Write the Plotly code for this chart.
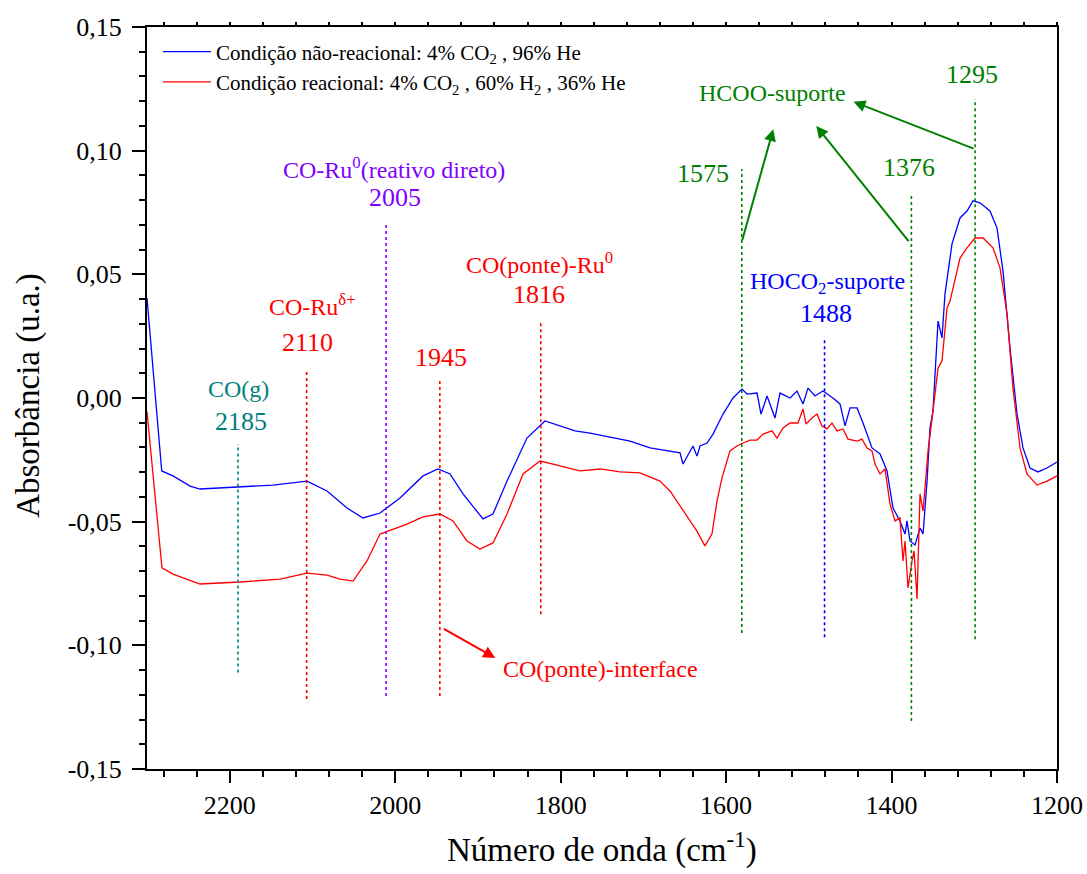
import plotly.graph_objects as go

# ---------------- data ----------------
wn_blue = [2300, 2282.2, 2268.6, 2248.0, 2235.9, 2187.6, 2147.7, 2106.6, 2082.4, 2058.2,
           2038.9, 2018.3, 1994.2, 1966.4, 1948.2, 1933.7, 1918.0, 1893.8, 1881.8, 1864.8,
           1840.7, 1818.9, 1800.8, 1782.6, 1764.5, 1740.3, 1716.1, 1691.9, 1667.8, 1655.7,
           1652.1, 1647.2, 1640.0, 1635.2, 1631.5, 1623.1, 1615.8, 1603.7, 1591.6, 1580.8,
           1574.7, 1562.6, 1557.8, 1550.5, 1540.9, 1534.8, 1522.7, 1514.3, 1507.0, 1501.0,
           1492.6, 1482.9, 1470.8, 1462.3, 1456.2, 1450.2, 1441.7, 1434.5, 1423.6, 1413.9,
           1405.5, 1398.2, 1389.8, 1383.7, 1381.3, 1377.7, 1371.6, 1365.6, 1361.9, 1357.1,
           1353.5, 1349.9, 1343.8, 1339.0, 1335.4, 1326.9, 1317.2, 1308.8, 1301.5, 1293.1,
           1281.0, 1272.5, 1265.3, 1256.8, 1248.3, 1241.1, 1232.6, 1223.0, 1212.1, 1200.0]
abs_blue = [0.0404, -0.0295, -0.0315, -0.0356, -0.0368, -0.0360, -0.0352, -0.0336, -0.0376, -0.0445,
            -0.0485, -0.0465, -0.0404, -0.0315, -0.0287, -0.0307, -0.0388, -0.0489, -0.0469, -0.0336,
            -0.0162, -0.0093, -0.0113, -0.0133, -0.0142, -0.0158, -0.0174, -0.0202, -0.0214, -0.0222,
            -0.0267, -0.0235, -0.0194, -0.0235, -0.0194, -0.0182, -0.0146, -0.0065, 0.0, 0.0036,
            0.0016, 0.0020, -0.0065, 0.0008, -0.0081, 0.0020, 0.0, 0.0028, -0.0024, 0.0040,
            0.0008, 0.0028, 0.0, -0.0024, -0.0113, -0.0040, -0.0040, -0.0101, -0.0202, -0.0226,
            -0.0295, -0.0445, -0.0497, -0.0550, -0.0497, -0.0578, -0.0594, -0.0526, -0.0550, -0.0336,
            -0.0121, -0.0053, 0.0311, 0.0243, 0.0421, 0.0623, 0.0728, 0.0756, 0.0797, 0.0789,
            0.0756, 0.0687, 0.0514, 0.0202, -0.0065, -0.0202, -0.0283, -0.0299, -0.0283, -0.0259]

wn_red = [2300, 2281.9, 2268.6, 2235.9, 2187.6, 2139.2, 2106.6, 2082.4, 2066.7, 2050.9,
          2034.1, 2018.3, 1985.7, 1966.4, 1945.8, 1930.1, 1913.2, 1897.5, 1881.8, 1864.8,
          1845.5, 1824.9, 1809.2, 1776.6, 1752.4, 1728.2, 1704.1, 1679.9, 1667.8, 1655.7,
          1649.7, 1643.6, 1635.2, 1625.6, 1617.1, 1611.0, 1605.0, 1595.3, 1586.8, 1579.6,
          1571.1, 1562.6, 1555.4, 1544.5, 1538.5, 1531.2, 1522.7, 1513.1, 1507.0, 1503.4,
          1496.2, 1490.1, 1484.1, 1478.0, 1472.0, 1466.0, 1458.7, 1452.6, 1441.7, 1435.7,
          1429.6, 1423.6, 1420.0, 1413.9, 1407.9, 1401.8, 1395.8, 1389.8, 1386.1, 1383.7,
          1380.1, 1375.3, 1372.8, 1369.2, 1365.6, 1361.9, 1355.9, 1349.9, 1343.8, 1339.0,
          1332.9, 1329.3, 1317.2, 1308.8, 1299.1, 1289.4, 1277.4, 1268.9, 1260.4, 1253.2,
          1244.7, 1236.3, 1224.2, 1212.1, 1200.0]
abs_red = [-0.0055, -0.0687, -0.0712, -0.0752, -0.0744, -0.0732, -0.0708, -0.0716, -0.0732, -0.0740,
           -0.0659, -0.0550, -0.0510, -0.0481, -0.0469, -0.0497, -0.0578, -0.0611, -0.0586, -0.0469,
           -0.0307, -0.0255, -0.0267, -0.0295, -0.0287, -0.0299, -0.0303, -0.0336, -0.0376, -0.0437,
           -0.0465, -0.0497, -0.0538, -0.0598, -0.0550, -0.0417, -0.0324, -0.0214, -0.0194, -0.0182,
           -0.0170, -0.0170, -0.0146, -0.0133, -0.0162, -0.0121, -0.0101, -0.0101, -0.0044, -0.0105,
           -0.0081, -0.0065, -0.0113, -0.0125, -0.0101, -0.0133, -0.0125, -0.0166, -0.0174, -0.0166,
           -0.0202, -0.0214, -0.0267, -0.0307, -0.0287, -0.0429, -0.0497, -0.0485, -0.0659, -0.0578,
           -0.0768, -0.0659, -0.0619, -0.0813, -0.0388, -0.0457, -0.0214, -0.0053, 0.0121, 0.0150,
           0.0364, 0.0392, 0.0566, 0.0607, 0.0647, 0.0647, 0.0607, 0.0526, 0.0340, 0.0040,
           -0.0202, -0.0307, -0.0352, -0.0336, -0.0315]

series_names = ["Condição não-reacional: 4% CO<sub>2</sub> , 96% He",
                "Condição reacional: 4% CO<sub>2</sub> , 60% H<sub>2</sub> , 36% He"]

x_ticks = [2200, 2000, 1800, 1600, 1400, 1200]
x_ticktext = ["2200", "2000", "1800", "1600", "1400", "1200"]
y_ticks = [0.15, 0.10, 0.05, 0.00, -0.05, -0.10, -0.15]
y_ticktext = ["0,15", "0,10", "0,05", "0,00", "-0,05", "-0,10", "-0,15"]

# peak marker lines (wavenumber, top, bottom)
marker_wn = [2190, 2107, 2011, 1946, 1824, 1581, 1481, 1376, 1299]
marker_top = [-0.0186, 0.0117, 0.0704, 0.0081, 0.0311, 0.0926, 0.0239, 0.0825, 0.1209]
marker_bottom = [-0.1110, -0.1217, -0.1205, -0.1205, -0.0874, -0.0950, -0.0967, -0.1306, -0.0975]

# ---------------- styles ----------------
TEAL = "#008080"
RED = "#FF0000"
PURPLE = "#8000FF"
GREEN = "#008000"
BLUE = "#0000FF"
marker_color = [TEAL, RED, PURPLE, RED, RED, GREEN, BLUE, GREEN, GREEN]
FONT = "Liberation Serif"

fig = go.Figure()
fig.add_trace(go.Scatter(x=wn_blue, y=abs_blue, mode="lines", name=series_names[0],
                         line=dict(color=BLUE, width=1.3)))
fig.add_trace(go.Scatter(x=wn_red, y=abs_red, mode="lines", name=series_names[1],
                         line=dict(color=RED, width=1.3)))
# carrier for the top tick axis
fig.add_trace(go.Scatter(x=[None], y=[None], xaxis="x2", showlegend=False, hoverinfo="skip"))

for wn, t, b, c in zip(marker_wn, marker_top, marker_bottom, marker_color):
    fig.add_shape(type="line", xref="x", yref="y", x0=wn, x1=wn, y0=b, y1=t,
                  line=dict(color=c, width=1.6, dash="dot"))

# text labels: (text, wn, abs, color, size)
labels = [
    ("CO(g)", 2189, 0.0036, TEAL, 24),
    ("2185", 2186, -0.0097, TEAL, 26),
    ("CO-Ru<sup>δ+</sup>", 2100, 0.0376, RED, 24),
    ("2110", 2106, 0.0226, RED, 26),
    ("CO-Ru<sup>0</sup>(reativo direto)", 2001, 0.0930, PURPLE, 24),
    ("2005", 2000, 0.0809, PURPLE, 26),
    ("1945", 1945, 0.0162, RED, 26),
    ("CO(ponte)-Ru<sup>0</sup>", 1826, 0.0546, RED, 24),
    ("1816", 1826, 0.0417, RED, 26),
    ("HCOO-suporte", 1544, 0.1233, GREEN, 24),
    ("1575", 1628, 0.0906, GREEN, 26),
    ("1376", 1379, 0.0930, GREEN, 26),
    ("1295", 1303, 0.1306, GREEN, 26),
    ("HOCO<sub>2</sub>-suporte", 1478, 0.0465, BLUE, 24),
    ("1488", 1479, 0.0340, BLUE, 26),
    ("CO(ponte)-interface", 1752, -0.1096, RED, 24),
]
for txt, x, y, c, s in labels:
    fig.add_annotation(x=x, y=y, xref="x", yref="y", text=txt, showarrow=False,
                       font=dict(family=FONT, size=s, color=c),
                       xanchor="center", yanchor="middle")

# arrows: (head wn, head abs, tail wn, tail abs, color)
arrows = [
    (1543, 0.1087, 1581, 0.0632, GREEN),
    (1491, 0.1100, 1378, 0.0628, GREEN),
    (1446, 0.1198, 1299, 0.1006, GREEN),
    (1879, -0.1051, 1943, -0.0930, RED),
]
for hx, hy, tx, ty, c in arrows:
    fig.add_annotation(x=hx, y=hy, ax=tx, ay=ty, xref="x", yref="y", axref="x", ayref="y",
                       text="", showarrow=True, arrowhead=2, arrowsize=1.2, arrowwidth=2,
                       arrowcolor=c)

# axis titles
fig.add_annotation(x=0.5, y=-0.106, xref="paper", yref="paper", showarrow=False,
                   text="Número de onda (cm<sup>-1</sup>)", xanchor="center", yanchor="middle",
                   font=dict(family=FONT, size=33, color="black"))
fig.add_annotation(x=-0.131, y=0.504, xref="paper", yref="paper", showarrow=False,
                   text="Absorbância (u.a.)", textangle=-90, xanchor="center", yanchor="middle",
                   font=dict(family=FONT, size=33, color="black"))

fig.update_layout(
    width=1087, height=874,
    margin=dict(l=147, r=30, t=27, b=105),
    plot_bgcolor="white", paper_bgcolor="white",
    font=dict(family=FONT, color="black"),
    showlegend=True,
    legend=dict(x=0.012, y=0.994, xanchor="left", yanchor="top", bgcolor="rgba(0,0,0,0)",
                font=dict(family=FONT, size=21, color="black"), itemwidth=48,
                tracegroupgap=0),
    xaxis=dict(range=[2300, 1200], autorange=False, automargin=False, showgrid=False, zeroline=False,
               showline=True, linecolor="black", linewidth=2, mirror=True,
               ticks="outside", ticklen=12, tickwidth=2, tickcolor="black",
               tickmode="array", tickvals=x_ticks, ticktext=x_ticktext,
               tickfont=dict(family=FONT, size=26, color="black"),
               minor=dict(ticks="outside", ticklen=6, tickwidth=2, tickcolor="black",
                          tickmode="linear", tick0=1200, dtick=40, showgrid=False)),
    xaxis2=dict(range=[2300, 1200], autorange=False, automargin=False, overlaying="x", side="top",
                anchor="y", showgrid=False, zeroline=False, showline=False, showticklabels=False,
                ticks="outside", ticklen=4, tickwidth=1.5, tickcolor="black",
                tickmode="linear", tick0=1200, dtick=40),
    yaxis=dict(range=[-0.15, 0.15], autorange=False, automargin=False, showgrid=False, zeroline=False,
               showline=True, linecolor="black", linewidth=2, mirror=True,
               ticks="outside", ticklen=13, tickwidth=2, tickcolor="black",
               tickmode="array", tickvals=y_ticks, ticktext=y_ticktext,
               ticklabelstandoff=5,
               tickfont=dict(family=FONT, size=26, color="black"),
               minor=dict(ticks="outside", ticklen=6, tickwidth=2, tickcolor="black",
                          tickmode="linear", tick0=0, dtick=0.01, showgrid=False)),
)

fig.write_html("out.html", config={"displayModeBar": False},
               post_script="document.body.style.margin='0';document.body.style.padding='0';")
